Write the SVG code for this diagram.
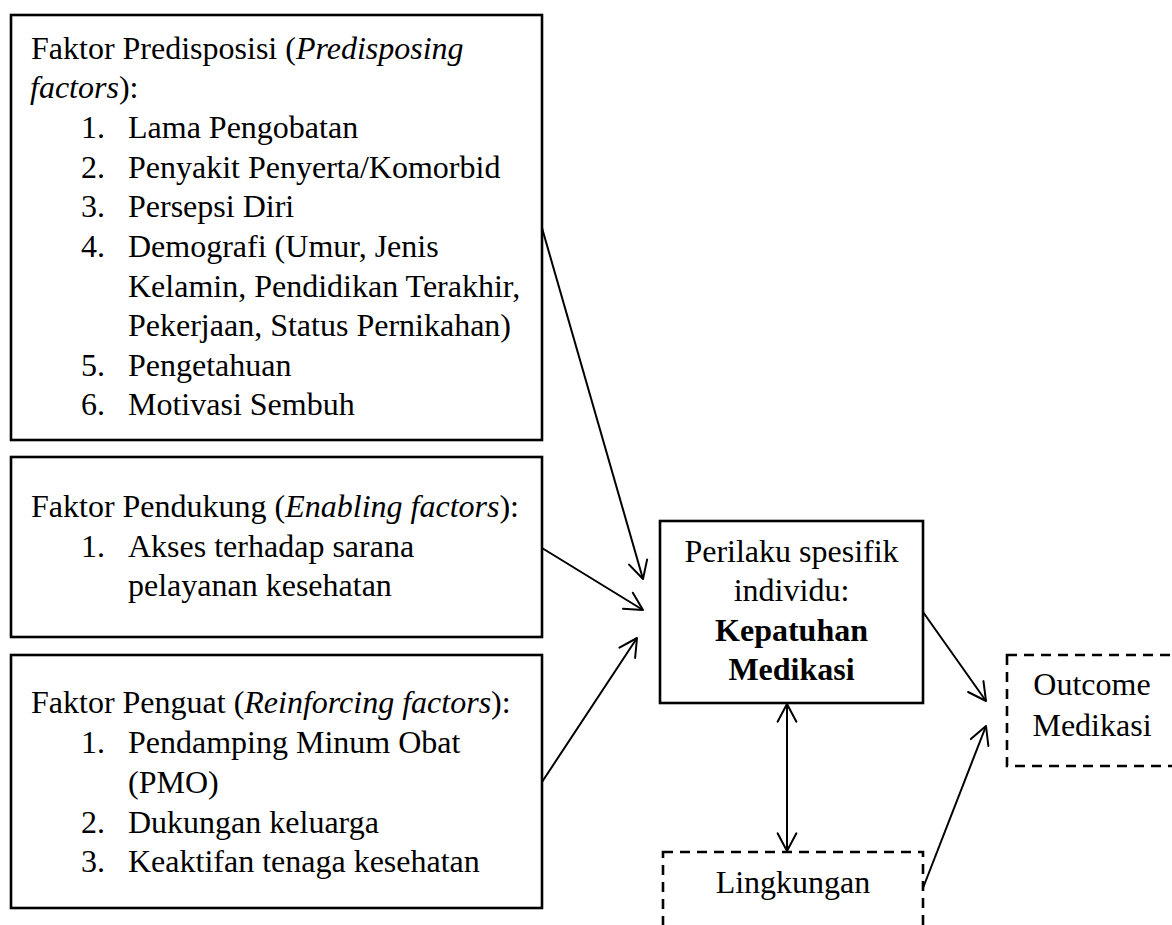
<svg xmlns="http://www.w3.org/2000/svg" width="1172" height="925" viewBox="0 0 1172 925">
<style>
.box{fill:#fff;stroke:#000;stroke-width:2.6}
.dash{fill:#fff;stroke:#000;stroke-width:2.6;stroke-dasharray:10 7}
.t{font-family:"Liberation Serif","Times New Roman",serif;font-size:32px;fill:#000}
.i{font-style:italic}
.b{font-weight:bold}
.c{text-anchor:middle}
.conn{fill:none;stroke:#000;stroke-width:2}
</style>
<defs>
<marker id="arr" markerUnits="userSpaceOnUse" viewBox="-22 -12 24 24" refX="0" refY="0" markerWidth="24" markerHeight="24" orient="auto-start-reverse">
<path d="M -17.7 -9.4 L 0 0 L -17.7 9.4" fill="none" stroke="#000" stroke-width="2" stroke-linejoin="round" stroke-linecap="round"/>
</marker>
</defs>
<g id="predisposing">
<rect class="box" x="11" y="15" width="531" height="425"/>
<text class="t" x="31" y="59">Faktor Predisposisi (<tspan class="i">Predisposing</tspan></text>
<text class="t" x="30" y="98"><tspan class="i">factors</tspan>):</text>
<text class="t" x="81" y="138">1.</text><text class="t" x="128" y="138">Lama Pengobatan</text>
<text class="t" x="81" y="178">2.</text><text class="t" x="128" y="178">Penyakit Penyerta/Komorbid</text>
<text class="t" x="81" y="217">3.</text><text class="t" x="128" y="217">Persepsi Diri</text>
<text class="t" x="81" y="257">4.</text><text class="t" x="128" y="257">Demografi (Umur, Jenis</text>
<text class="t" x="128" y="297">Kelamin, Pendidikan Terakhir,</text>
<text class="t" x="128" y="336">Pekerjaan, Status Pernikahan)</text>
<text class="t" x="81" y="376">5.</text><text class="t" x="128" y="376">Pengetahuan</text>
<text class="t" x="81" y="415">6.</text><text class="t" x="128" y="415">Motivasi Sembuh</text>
</g>
<g id="enabling">
<rect class="box" x="11" y="457" width="531" height="180"/>
<text class="t" x="31" y="517">Faktor Pendukung (<tspan class="i">Enabling factors</tspan>):</text>
<text class="t" x="81" y="557">1.</text><text class="t" x="128" y="557">Akses terhadap sarana</text>
<text class="t" x="128" y="596">pelayanan kesehatan</text>
</g>
<g id="reinforcing">
<rect class="box" x="11" y="655" width="531" height="253"/>
<text class="t" x="31" y="713">Faktor Penguat (<tspan class="i">Reinforcing factors</tspan>):</text>
<text class="t" x="81" y="753">1.</text><text class="t" x="128" y="753">Pendamping Minum Obat</text>
<text class="t" x="128" y="793">(PMO)</text>
<text class="t" x="81" y="833">2.</text><text class="t" x="128" y="833">Dukungan keluarga</text>
<text class="t" x="81" y="872">3.</text><text class="t" x="128" y="872">Keaktifan tenaga kesehatan</text>
</g>
<g id="behavior">
<rect class="box" x="660" y="521" width="263" height="182"/>
<text class="t c" x="791.5" y="562">Perilaku spesifik</text>
<text class="t c" x="791.5" y="601">individu:</text>
<text class="t c b" x="791.5" y="641">Kepatuhan</text>
<text class="t c b" x="791.5" y="680">Medikasi</text>
</g>
<g id="outcome">
<rect class="dash" x="1007" y="655" width="200" height="111"/>
<text class="t c" x="1092" y="695">Outcome</text>
<text class="t c" x="1092" y="736">Medikasi</text>
</g>
<g id="environment">
<rect class="dash" x="663" y="852" width="260" height="100"/>
<text class="t c" x="793" y="893">Lingkungan</text>
</g>
<g id="connectors">
<line class="conn" x1="542" y1="228" x2="643" y2="579" marker-end="url(#arr)"/>
<line class="conn" x1="542" y1="548" x2="643" y2="610" marker-end="url(#arr)"/>
<line class="conn" x1="542" y1="782" x2="637" y2="638" marker-end="url(#arr)"/>
<line class="conn" x1="923" y1="612" x2="986" y2="701" marker-end="url(#arr)"/>
<line class="conn" x1="787" y1="704" x2="787" y2="851" marker-start="url(#arr)" marker-end="url(#arr)"/>
<line class="conn" x1="923" y1="888" x2="986" y2="726" marker-end="url(#arr)"/>
</g>
</svg>
